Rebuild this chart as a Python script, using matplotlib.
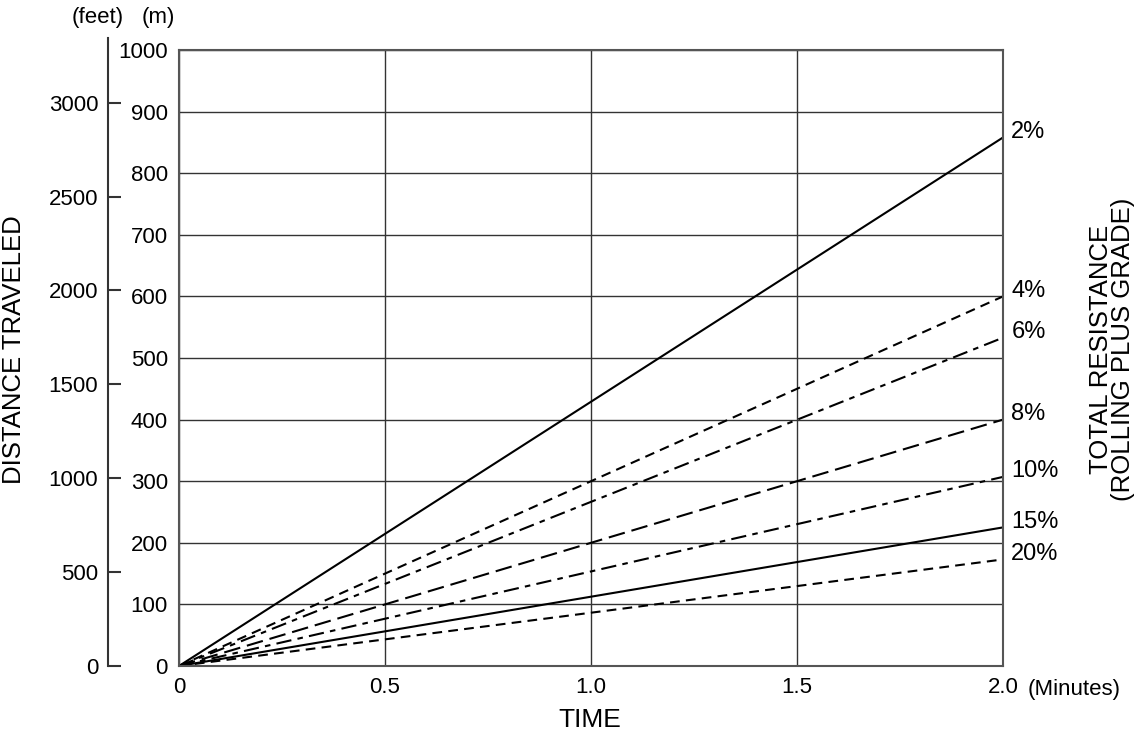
import numpy as np
import matplotlib.pyplot as plt

plt.rcParams['font.family'] = ['Liberation Sans', 'DejaVu Sans']
plt.rcParams['lines.scale_dashes'] = False

time = [0, 2.0]
grades = ['2%', '4%', '6%', '8%', '10%', '15%', '20%']
dist_end = [858, 600, 533, 400, 307, 225, 173]   # metres at 2.0 min
styles = ['-', (0, (7, 4.5)), (0, (11, 4.5, 4, 4.5)), (0, (12, 5)),
          (0, (11, 4.5, 4, 4.5)), '-', (0, (7, 4.5))]

m_ticks = list(range(0, 1001, 100))
ft_ticks = list(range(0, 3001, 500))
x_ticks = [0, 0.5, 1.0, 1.5, 2.0]
x_labels = ['0', '0.5', '1.0', '1.5', '2.0']

W, H = 1143, 740
fig = plt.figure(figsize=(W / 100, H / 100), dpi=100)

# main (metres) axes, pixel box
L, R, T, B = 179, 1003, 50, 666
ax = fig.add_axes([L / W, 1 - B / H, (R - L) / W, (B - T) / H])
ax.set_xlim(0, 2.0)
ax.set_ylim(0, 1000)
ax.set_xticks(x_ticks)
ax.set_xticklabels(x_labels)
ax.set_yticks(m_ticks)
ax.tick_params(length=0, labelsize=16, pad=8)
ax.grid(True, color='#333333', lw=1.0)
for s in ax.spines.values():
    s.set_color('#555555')
    s.set_linewidth(1.5)

for g, d, ls in zip(grades, dist_end, styles):
    ax.plot(time, [0, d], color='black', lw=1.5, ls=ls)
    ax.annotate(g, (2.0, d), xytext=(6, 4), textcoords='offset points',
                ha='left', va='center', fontsize=17, annotation_clip=False)

# feet axis, spine a bit taller than the metres axes
FX, FT = 108, 38
top_m = (B - FT) / (B - T) * 1000
axf = fig.add_axes([FX / W, 1 - B / H, 0.001, (B - FT) / H])
axf.set_ylim(0, top_m / 0.3048)
axf.set_yticks(ft_ticks)
axf.set_xticks([])
axf.patch.set_visible(False)
for k in ['top', 'right', 'bottom']:
    axf.spines[k].set_visible(False)
axf.spines['left'].set_color('#333333')
axf.spines['left'].set_linewidth(1.5)
axf.tick_params(axis='y', direction='in', length=9, width=1.5,
                color='#333333', labelsize=16, pad=7)

fig.text(72 / W, 1 - 18 / H, '(feet)', fontsize=16, ha='left', va='center')
fig.text(142 / W, 1 - 18 / H, '(m)', fontsize=16, ha='left', va='center')
fig.text(1028 / W, 1 - 690 / H, '(Minutes)', fontsize=16, ha='left', va='center')
fig.text(590 / W, 1 - 720 / H, 'TIME', fontsize=19, ha='center', va='center')
fig.text(14 / W, 1 - 350 / H, 'DISTANCE TRAVELED', fontsize=18.5,
         rotation=90, ha='center', va='center')
fig.text(1112 / W, 1 - 349 / H, 'TOTAL RESISTANCE\n(ROLLING PLUS GRADE)',
         fontsize=18.5, rotation=90, ha='center', va='center',
         multialignment='center', linespacing=0.9)

fig.savefig('out.png', dpi=100)
